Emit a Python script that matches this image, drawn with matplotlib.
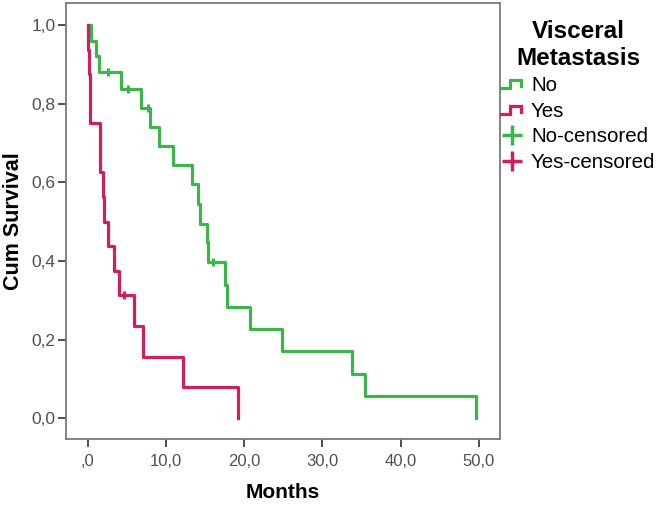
import matplotlib
matplotlib.use("Agg")
import matplotlib.pyplot as plt
from matplotlib.lines import Line2D
from matplotlib.legend_handler import HandlerBase

# Kaplan-Meier steps
no_times = [0, 0.42, 1.1, 1.4, 4.17, 6.8, 8.0, 9.07, 10.87, 13.34, 14.06, 14.3,
            15.2, 15.35, 17.47, 17.8, 20.75, 24.8, 33.76, 35.46, 49.6]
no_surv = [1.0, 0.96, 0.92, 0.88, 0.837, 0.79, 0.741, 0.693, 0.644, 0.595, 0.546,
           0.495, 0.449, 0.398, 0.338, 0.283, 0.226, 0.171, 0.112, 0.056, 0.0]
no_cens_t = [2.56, 5.1, 7.75, 16.0]
no_cens_s = [0.88, 0.837, 0.79, 0.398]

yes_times = [0, 0.05, 0.15, 0.25, 0.3, 1.5, 1.6, 1.9, 2.05, 2.56, 3.28, 4.0,
             5.92, 7.1, 12.1, 19.2]
yes_surv = [1.0, 0.9375, 0.875, 0.8125, 0.75, 0.6875, 0.625, 0.5625, 0.5,
            0.4375, 0.375, 0.3125, 0.234, 0.156, 0.078, 0.0]
yes_cens_t = [4.56]
yes_cens_s = [0.3125]

xticks = [0, 10, 20, 30, 40, 50]
xticklabels = [",0", "10,0", "20,0", "30,0", "40,0", "50,0"]
yticks = [0.0, 0.2, 0.4, 0.6, 0.8, 1.0]
yticklabels = ["0,0", "0,2", "0,4", "0,6", "0,8", "1,0"]
groups = ["No", "Yes"]

green = "#3db54a"
red = "#d11f5c"

plt.rcParams['font.family'] = ['Liberation Sans', 'DejaVu Sans']


class StepHandler(HandlerBase):
    def create_artists(self, legend, orig, xd, yd, w, h, fontsize, trans):
        x0 = -xd
        y0 = -yd
        xs = [x0, x0 + w * 0.42, x0 + w * 0.42, x0 + w * 0.9, x0 + w * 0.9]
        ys = [y0 + h * 0.2, y0 + h * 0.2, y0 + h * 0.75, y0 + h * 0.75, y0 + h * 0.35]
        ln = Line2D(xs, ys, color=orig.get_color(), lw=orig.get_linewidth(),
                    solid_joinstyle='miter', transform=trans)
        return [ln]


fig = plt.figure(figsize=(6.65, 5.07), dpi=100)
ax = fig.add_axes([66 / 665, 1 - 439 / 507, 434 / 665, 436 / 507])

ax.step(no_times, no_surv, where='post', color=green, lw=2.3)
ax.step(yes_times, yes_surv, where='post', color=red, lw=2.3)
ax.plot(no_cens_t, no_cens_s, ls='none', marker='|', ms=6, mew=2.2, color=green)
ax.plot(yes_cens_t, yes_cens_s, ls='none', marker='|', ms=6, mew=2.2, color=red)

ax.set_xlim(-2.8, 52.7)
ax.set_ylim(-0.053, 1.056)
ax.set_xticks(xticks)
ax.set_xticklabels(xticklabels)
ax.set_yticks(yticks)
ax.set_yticklabels(yticklabels)
ax.tick_params(labelsize=12, labelcolor="#505050", color="#404040",
               length=6, width=1.3)
ax.tick_params(axis='y', pad=1.5, labelsize=12.5)
ax.tick_params(axis='x', pad=5)
for s in ax.spines.values():
    s.set_color("#7a7a7a")
    s.set_linewidth(1.3)

ax.set_xlabel("Months", fontsize=15, fontweight='bold')
ax.set_ylabel("Cum Survival", fontsize=15.5, fontweight='bold')
ax.xaxis.set_label_coords(0.5, -0.1)
ax.yaxis.set_label_coords(-0.122, 0.5)
ax.yaxis.label.set_va('center')

h_no = Line2D([], [], color=green, lw=2.3)
h_yes = Line2D([], [], color=red, lw=2.3)
h_nc = Line2D([], [], ls='none', marker='+', ms=14, mew=2.5, color=green)
h_yc = Line2D([], [], ls='none', marker='+', ms=14, mew=2.5, color=red)
leg = fig.legend([h_no, h_yes, h_nc, h_yc],
                 [groups[0], groups[1], groups[0] + "-censored", groups[1] + "-censored"],
                 handler_map={h_no: StepHandler(), h_yes: StepHandler()},
                 loc='upper left', bbox_to_anchor=(497 / 665, 1 - 16 / 507),
                 frameon=False, fontsize=14.8, title="Visceral\nMetastasis",
                 title_fontproperties={'weight': 'bold', 'size': 17.5},
                 handlelength=1.05, handletextpad=0.4, labelspacing=0.32,
                 borderpad=0.2, borderaxespad=0)
leg.get_title().set_multialignment('center')

fig.savefig("out.png", dpi=100)
